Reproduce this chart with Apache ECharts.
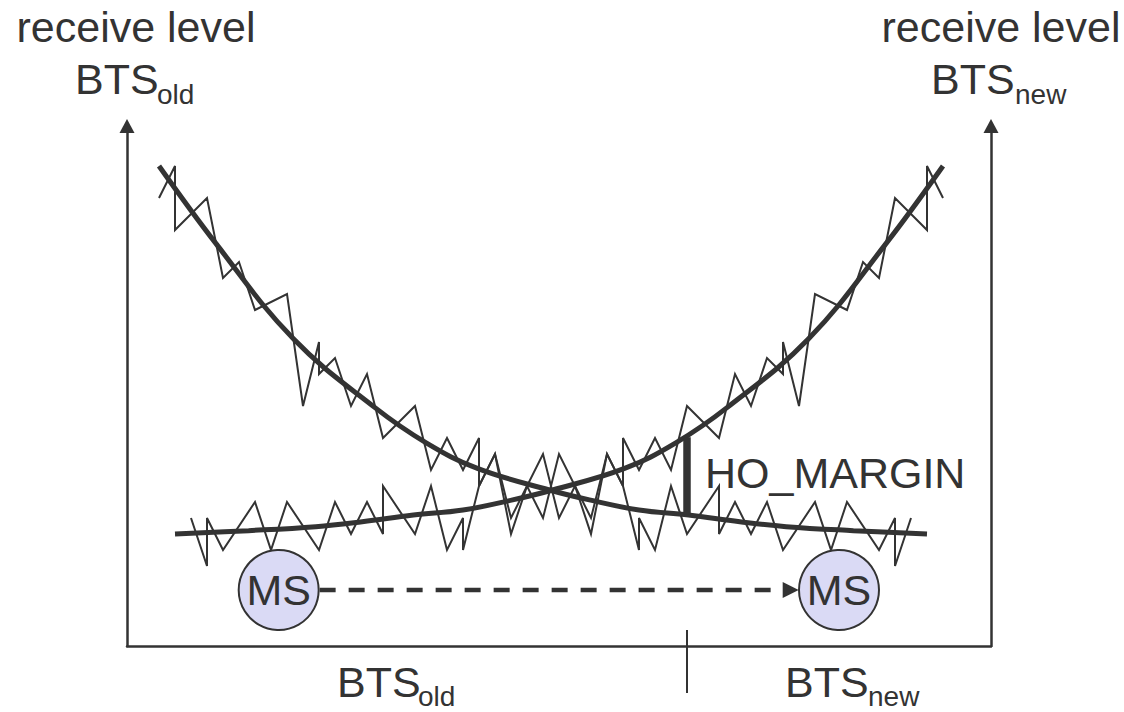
<!DOCTYPE html>
<html>
<head>
<meta charset="utf-8">
<script src="https://cdn.jsdelivr.net/npm/echarts@6/dist/echarts.min.js"></script>
<style>
html,body{margin:0;padding:0;background:#ffffff;}
#chart{width:1124px;height:712px;}
</style>
</head>
<body>
<div id="chart"></div>
<script>
// distance along the route (steps) and receive level (steps)
const oldNoisyDist  = [0,1,1,3,4,5,6,8,9,10,10,11,12,13,14,16,17,18,19,20,20,21,22,23,24,25,27,28,29,30,30,31,32,33,35,35,36,37,38,39,41,42,43,45,46,46,47];
const oldNoisyLevel = [28,30,26,28,23,24,21,22,15,19,17,18,15,17,13,15,11,13,11,13,10,12,7,10,8,12,8,12,10,6,8,6,10,7,10,7,9,7,9,6,9,6,9,6,8,5,8];
const newNoisyDist  = [2,3,3,4,6,7,8,10,11,12,13,14,14,16,17,18,19,19,20,21,22,24,25,26,27,28,29,29,30,31,32,33,35,36,37,38,39,39,40,41,43,44,45,46,48,48,49];
const newNoisyLevel = [8,5,8,6,9,6,9,6,9,7,9,7,10,7,10,6,8,6,10,12,8,12,8,10,7,12,10,13,11,13,11,15,13,17,15,18,17,19,15,22,21,24,23,28,26,30,28];
const oldMeanDist   = [0,3.6,8.4,13.5,16.7,19.9,24.4,26.9,30.0,33.1,36.3,39.2,43.4,48.0];
const oldMeanLevel  = [30.0,25.1,19.2,14.9,12.7,11.1,9.75,9.13,8.5,8.19,7.77,7.46,7.21,7.0];
const newMeanDist   = [1.0,5.6,9.8,12.7,15.9,19.0,22.1,24.6,29.1,32.3,35.5,40.6,45.4,49.0];
const newMeanLevel  = [7.0,7.21,7.46,7.77,8.19,8.5,9.13,9.75,11.1,12.7,14.9,19.2,25.1,30.0];
const hoDist = 33;
const hoLevels = [8.2, 13.05];
const cellBorderDist = 33;
const cellBorderLevels = [1, -2.94];
const msDist = [7.48, 42.5];
const msLevel = 3.5;
const moveDist = [10.04, 39.48];
const axisRange = {xMin: -2, xMax: 52, yMin: 0, yMax: 32.5};

const INK = '#333333';
const FONT = '"Liberation Sans", Arial, Helvetica, sans-serif';
const zip = (a, b) => a.map((v, i) => [v, b[i]]);

const chart = echarts.init(document.getElementById('chart'), null, {renderer: 'svg'});

const axisLineStyle = {color: INK, width: 2.5};
const hidden = {axisTick: {show: false}, axisLabel: {show: false}, splitLine: {show: false}};

function yAx(pos) {
  return Object.assign({
    type: 'value', min: axisRange.yMin, max: axisRange.yMax, position: pos,
    axisLine: {show: true, onZero: false, symbol: ['none', 'triangle'], symbolSize: [15, 14], lineStyle: axisLineStyle}
  }, hidden);
}

function txt(text, x, y, size, align) {
  return {
    type: 'text', x: x, y: y, silent: true, z: 100,
    style: {
      text: text, fill: INK, font: size + 'px ' + FONT,
      textAlign: align, align: align, textVerticalAlign: 'middle', verticalAlign: 'middle'
    }
  };
}

const option = {
  animation: false,
  backgroundColor: '#ffffff',
  grid: {left: 127, right: 133, top: 126, bottom: 66},
  xAxis: Object.assign({
    type: 'value', min: axisRange.xMin, max: axisRange.xMax,
    axisLine: {show: true, onZero: false, lineStyle: axisLineStyle}
  }, hidden),
  yAxis: [yAx('left'), yAx('right')],
  series: [
    {type: 'line', name: 'old noisy', data: zip(oldNoisyDist, oldNoisyLevel), symbol: 'none', color: INK,
     lineStyle: {color: INK, width: 2, join: 'miter'}, z: 2, silent: true},
    {type: 'line', name: 'new noisy', data: zip(newNoisyDist, newNoisyLevel), symbol: 'none', color: INK,
     lineStyle: {color: INK, width: 2, join: 'miter'}, z: 2, silent: true},
    {type: 'line', name: 'old mean', data: zip(oldMeanDist, oldMeanLevel), symbol: 'none', smooth: 0.4, color: INK,
     lineStyle: {color: INK, width: 5}, z: 3, silent: true},
    {type: 'line', name: 'new mean', data: zip(newMeanDist, newMeanLevel), symbol: 'none', smooth: 0.4, color: INK,
     lineStyle: {color: INK, width: 5}, z: 3, silent: true},
    {type: 'line', name: 'HO margin', data: hoLevels.map(l => [hoDist, l]), symbol: 'none', color: INK,
     lineStyle: {color: INK, width: 7.5, cap: 'butt'}, z: 4, silent: true},
    {type: 'line', name: 'cell border', data: cellBorderLevels.map(l => [cellBorderDist, l]), symbol: 'none', clip: false, color: INK,
     lineStyle: {color: INK, width: 2}, z: 4, silent: true},
    {type: 'line', name: 'movement', color: INK, symbol: 'none', showSymbol: true, z: 4, silent: true,
     lineStyle: {color: INK, width: 4.5, type: [16, 13]},
     itemStyle: {color: INK, borderWidth: 0},
     data: [[moveDist[0], msLevel],
            {value: [moveDist[1], msLevel], symbol: 'triangle', symbolSize: [16, 16], symbolRotate: -90,
             itemStyle: {color: INK, borderWidth: 0}}]},
    {type: 'scatter', name: 'MS', data: msDist.map(d => [d, msLevel]), symbol: 'circle', symbolSize: 80, z: 5, silent: true,
     itemStyle: {color: '#dadaf5', borderColor: INK, borderWidth: 2, opacity: 1},
     label: {show: true, position: 'inside', formatter: 'MS', fontSize: 43, fontFamily: FONT, color: INK}}
  ],
  graphic: [
    txt('receive level', 136, 27, 43, 'center'),
    txt('receive level', 1001, 27, 43, 'center'),
    txt('BTS', 75, 79, 43, 'left'),
    txt('old', 157, 94, 28, 'left'),
    txt('BTS', 931, 79, 43, 'left'),
    txt('new', 1015, 94, 28, 'left'),
    txt('BTS', 337, 681.5, 43, 'left'),
    txt('old', 418, 696, 28, 'left'),
    txt('BTS', 785, 681.5, 43, 'left'),
    txt('new', 868, 696, 28, 'left'),
    txt('HO_MARGIN', 705, 473.4, 43, 'left')
  ]
};
chart.setOption(option);
</script>
</body>
</html>
